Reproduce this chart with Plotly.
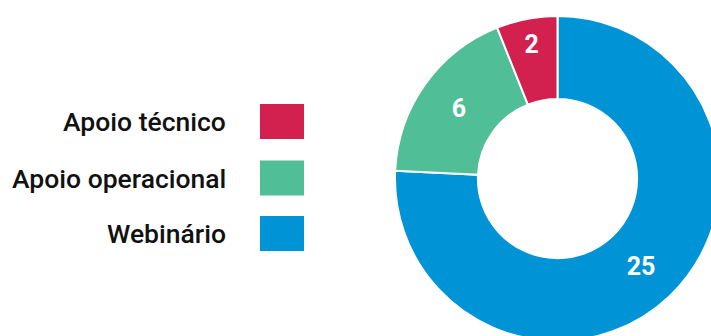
import plotly.graph_objects as go

# Donut data
categories = ["Apoio técnico", "Apoio operacional", "Webinário"]
values = [2, 6, 25]
colors = ["#D2214F", "#50BF98", "#0094D6"]

# Canvas size (slightly larger than the visible window so the ring can bleed off the edges)
W, H = 730, 346


def px_x(x):
    return x / W


def px_y(y):
    return 1 - y / H


# Ring geometry in pixels
cx, cy, r = 557.5, 178.5, 162.5

# Slices are drawn clockwise from 12 o'clock in reverse order, so the
# smallest slice sits just left of the top and the largest wraps around.
fig = go.Figure(
    go.Pie(
        labels=categories[::-1],
        values=values[::-1],
        marker=dict(colors=colors[::-1], line=dict(color="white", width=2)),
        hole=0.49,
        sort=False,
        direction="clockwise",
        rotation=0,
        textinfo="value",
        textposition="inside",
        insidetextorientation="horizontal",
        textfont=dict(family="Roboto", size=25, color="white", weight="bold"),
        showlegend=False,
        hoverinfo="label+value",
        domain=dict(
            x=[px_x(cx - r), px_x(cx + r)],
            y=[px_y(cy + r), px_y(cy - r)],
        ),
    )
)

# Legend: right-aligned text followed by a colour swatch
shapes = []
annotations = []
row_centers = [121.5, 178, 233.5]
for name, col, yc in zip(categories, colors, row_centers):
    shapes.append(
        dict(
            type="rect", xref="paper", yref="paper",
            x0=px_x(260), x1=px_x(304),
            y0=px_y(yc + 17.5), y1=px_y(yc - 17.5),
            fillcolor=col, line=dict(width=0),
        )
    )
    annotations.append(
        dict(
            text=name, xref="paper", yref="paper",
            x=px_x(228), y=px_y(yc), xanchor="right", yanchor="middle",
            showarrow=False,
            font=dict(family="Roboto", size=26.5, color="#111111", weight=500),
        )
    )

fig.update_layout(
    width=W,
    height=H,
    margin=dict(l=0, r=0, t=0, b=0),
    paper_bgcolor="white",
    plot_bgcolor="white",
    shapes=shapes,
    annotations=annotations,
)

fig.write_html("out.html")
